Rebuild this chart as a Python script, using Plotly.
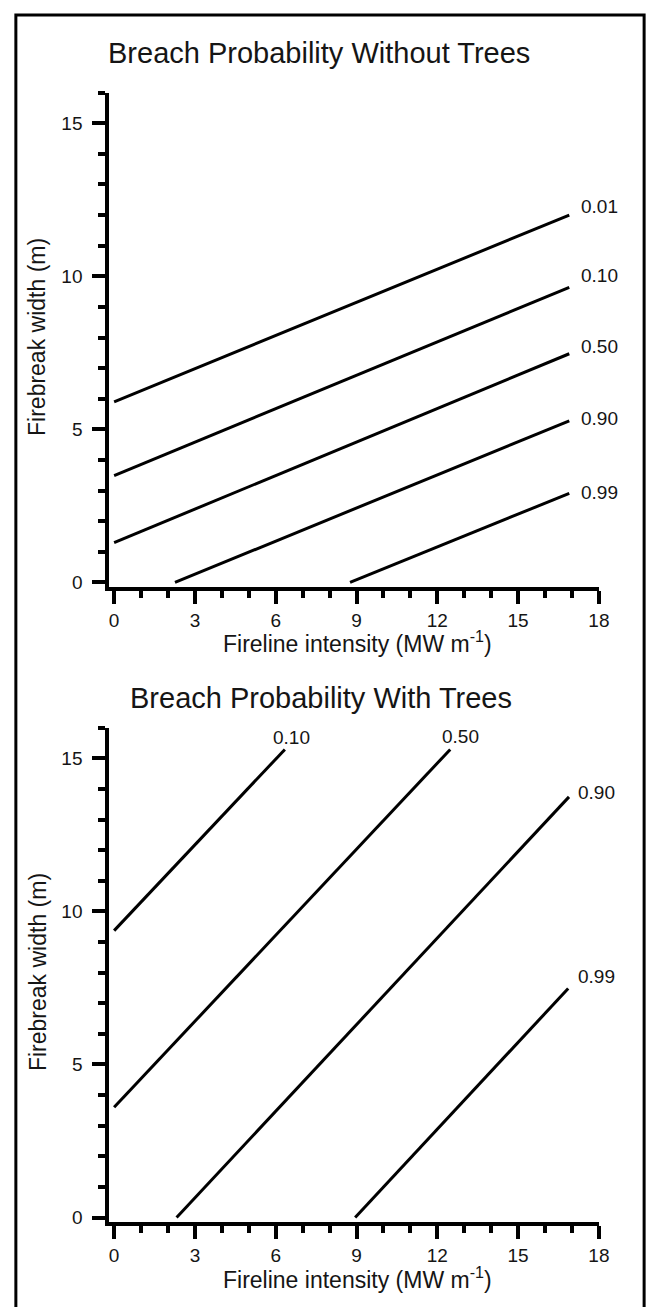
import plotly.graph_objects as go

# breach probability contours, endpoints
# top panel: without trees
top_labels = ["0.01", "0.10", "0.50", "0.90", "0.99"]
top_x0 = [0.0, 0.0, 0.0, 2.26, 8.76]
top_y0 = [5.9, 3.49, 1.3, 0.0, 0.0]
top_x1 = [16.9, 16.9, 16.9, 16.9, 16.9]
top_y1 = [12.0, 9.64, 7.47, 5.28, 2.91]

# bottom panel: with trees
bot_labels = ["0.10", "0.50", "0.90", "0.99"]
bot_x0 = [0.0, 0.0, 2.32, 8.95]
bot_y0 = [9.37, 3.6, 0.0, 0.0]
bot_x1 = [6.34, 12.48, 16.89, 16.86]
bot_y1 = [15.29, 15.29, 13.74, 7.48]

x_ticks = [0, 3, 6, 9, 12, 15, 18]
y_ticks = [0, 5, 10, 15]

# label offsets (px) from the line end
top_shift = [(10, 9), (10, 12), (10, 7), (10, 2), (10, 1)]
bot_shift = [(-14, 12), (-10, 13), (7, 4), (8, 12)]

W, H = 654, 1307
FONT = "Liberation Sans, Arial, sans-serif"
INK = "#151515"

fig = go.Figure()

for xa, ya, x0, y0, x1, y1 in [("x", "y", top_x0, top_y0, top_x1, top_y1),
                               ("x2", "y2", bot_x0, bot_y0, bot_x1, bot_y1)]:
    for a, b, c, d in zip(x0, y0, x1, y1):
        fig.add_trace(go.Scatter(x=[a, c], y=[b, d], mode="lines",
                                 line=dict(color="black", width=3),
                                 xaxis=xa, yaxis=ya, showlegend=False,
                                 hoverinfo="skip"))

for xa, ya, labels, x1, y1, shifts in [("x", "y", top_labels, top_x1, top_y1, top_shift),
                                       ("x2", "y2", bot_labels, bot_x1, bot_y1, bot_shift)]:
    for lab, xe, ye, (dx, dy) in zip(labels, x1, y1, shifts):
        fig.add_annotation(x=xe, y=ye, xref=xa, yref=ya, text=lab,
                           showarrow=False, xanchor="left", yanchor="middle",
                           xshift=dx, yshift=dy,
                           font=dict(size=19, color=INK, family=FONT))

xdom = [103 / W, 601 / W]
minor = dict(dtick=1, tick0=0, ticks="outside", ticklen=7, tickwidth=3.5,
             tickcolor="black", showgrid=False)
xcommon = dict(range=[-0.18, 18], tickvals=x_ticks, ticks="outside", ticklen=13,
               tickwidth=3.5, tickcolor="black", showline=True, linewidth=4,
               linecolor="black", showgrid=False, zeroline=False, domain=xdom,
               minor=minor, tickfont=dict(size=19, color=INK, family=FONT))
ycommon = dict(range=[-0.16, 16], tickvals=y_ticks, ticks="outside", ticklen=13,
               tickwidth=3.5, tickcolor="black", showline=True, linewidth=4,
               linecolor="black", showgrid=False, zeroline=False,
               ticklabelstandoff=6,
               minor=minor, tickfont=dict(size=19, color=INK, family=FONT))

fig.update_layout(
    width=W, height=H,
    margin=dict(l=0, r=0, t=0, b=0),
    paper_bgcolor="white", plot_bgcolor="white",
    font=dict(family=FONT, color=INK),
    xaxis=dict(**xcommon, anchor="y"),
    yaxis=dict(**ycommon, anchor="x", domain=[725 / H, 1222 / H]),
    xaxis2=dict(**xcommon, anchor="y2"),
    yaxis2=dict(**ycommon, anchor="x2", domain=[87 / H, 584 / H]),
)

titles = [("Breach Probability Without Trees", 100, 45),
          ("Breach Probability With Trees", 122, 693)]
for txt, lx, cy in titles:
    fig.add_annotation(x=lx / W, y=1 - cy / H, xref="paper", yref="paper", text=txt,
                       showarrow=False, xanchor="left", yanchor="middle",
                       font=dict(size=29, color=INK, family=FONT))

for cy in [637, 1276]:
    fig.add_annotation(x=355 / W, y=1 - cy / H, xref="paper", yref="paper",
                       text="Fireline intensity (MW m<sup>-1</sup>)",
                       showarrow=False, xanchor="center", yanchor="middle",
                       font=dict(size=23, color=INK, family=FONT))

for cy in [330, 968]:
    fig.add_annotation(x=30 / W, y=1 - cy / H, xref="paper", yref="paper",
                       text="Firebreak width (m)", textangle=-90,
                       showarrow=False, xanchor="center", yanchor="middle",
                       font=dict(size=23, color=INK, family=FONT))

# outer frame, open at the bottom
fig.add_shape(type="rect", xref="paper", yref="paper",
              x0=8 / W, x1=647 / W, y0=-0.02, y1=1 - 7 / H,
              line=dict(color="black", width=3))

fig.write_html("out.html")
